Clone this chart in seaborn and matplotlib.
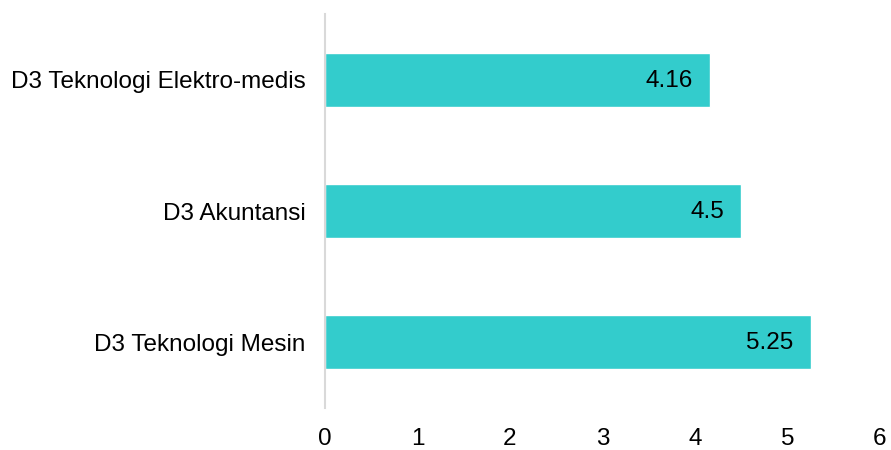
import matplotlib
matplotlib.use("Agg")
import matplotlib.pyplot as plt
import seaborn as sns
import pandas as pd

categories = ["D3 Teknologi Elektro-medis", "D3 Akuntansi", "D3 Teknologi Mesin"]
values = [4.16, 4.5, 5.25]
value_labels = ["4.16", "4.5", "5.25"]
xticks = [0, 1, 2, 3, 4, 5, 6]

sns.set_theme(style="white")
plt.rcParams["font.family"] = ["Liberation Sans", "DejaVu Sans"]

df = pd.DataFrame({"cat": categories, "val": values})

fig = plt.figure(figsize=(8.91, 4.5), dpi=100)
ax = fig.add_axes([325/891, 42/450, 555/891, 394/450])
sns.barplot(data=df, x="val", y="cat", orient="h", color="#33CCCC",
            saturation=1, width=0.41, ax=ax)

for i, (v, lab) in enumerate(zip(values, value_labels)):
    ax.annotate(lab, xy=(v, i), xytext=(-17, -1), textcoords="offset pixels",
                ha="right", va="center", fontsize=17.5, color="#000000")

ax.set_xlim(0, 6)
ax.set_xticks(xticks)
ax.set_xticklabels([str(t) for t in xticks])
ax.set_xlabel("")
ax.set_ylabel("")
for s in ["top", "right", "bottom"]:
    ax.spines[s].set_visible(False)
ax.spines["left"].set_color("#D9D9D9")
ax.spines["left"].set_linewidth(1.5)
ax.tick_params(axis="y", length=0, pad=14, labelsize=17.5, labelcolor="#000000")
ax.tick_params(axis="x", length=0, pad=14.5, labelsize=17.5, labelcolor="#000000")
ax.grid(False)

fig.savefig("out.png", dpi=100)
